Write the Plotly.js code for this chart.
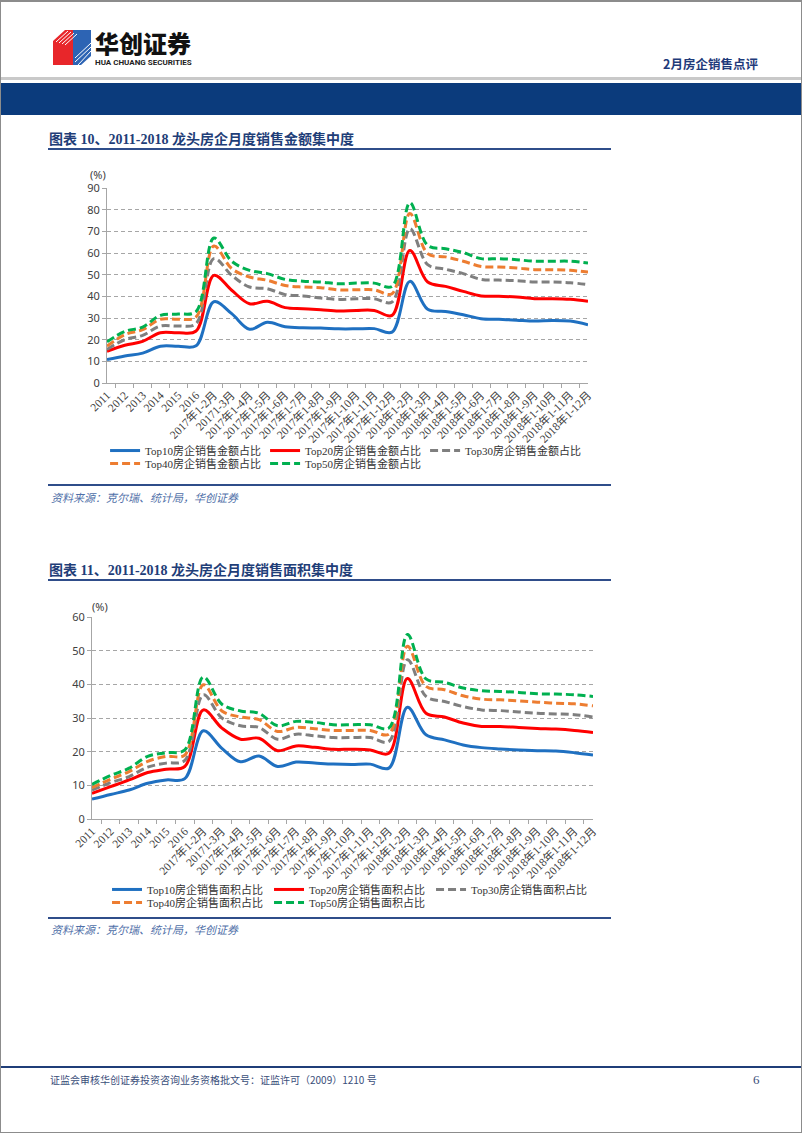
<!DOCTYPE html>
<html><head><meta charset="utf-8">
<script src="https://cdn.plot.ly/plotly-3.0.1.min.js"></script>
<style>
body{margin:0;background:#fff;}
#page{position:relative;width:802px;height:1133px;overflow:hidden;background:#fff;font-family:"Noto Sans CJK SC",sans-serif;}
.abs{position:absolute;white-space:nowrap;}
.ttl{font-family:"Liberation Serif","Noto Sans CJK SC",serif;font-weight:bold;font-size:14px;line-height:18px;color:#1F3E78;left:49px;}
.rule{left:48px;width:563px;height:2px;background:#2F4D8A;}
.src{left:51px;font-size:11px;line-height:14px;font-style:italic;color:#4F6FA8;}
.pct{font-size:11px;line-height:12px;color:#404040;font-family:"Noto Sans","Noto Sans CJK SC",sans-serif;}
</style></head><body>
<div id="page">
  <div id="chart1" class="abs" style="left:0;top:170px;width:640px;height:370px;"></div>
  <div id="chart2" class="abs" style="left:0;top:595px;width:640px;height:380px;"></div>

  <!-- page frame -->
  <div class="abs" style="left:0;top:0;width:802px;height:1133px;box-sizing:border-box;border:1px solid #8C8C8C;border-top:2px solid #8C8C8C;"></div>

  <!-- logo -->
  <svg class="abs" style="left:53px;top:29px;" width="40" height="38" viewBox="0 0 40 38">
    <polygon points="0,12 12,1 22,1 22,36 0,36" fill="#E8262A"/>
    <polygon points="20,1 38,1 38,27 28,36 20,36" fill="#2D64B4"/>
    <g stroke="#fff" stroke-width="1">
      <line x1="3" y1="13" x2="15" y2="2"/>
      <line x1="6" y1="14" x2="18" y2="3"/>
      <line x1="9" y1="15" x2="21" y2="4"/>
      <line x1="12" y1="16" x2="24" y2="5"/>
      <line x1="22" y1="33" x2="38" y2="18"/>
      <line x1="22" y1="29" x2="38" y2="14"/>
      <line x1="25" y1="36" x2="38" y2="22"/>
    </g>
  </svg>
  <div class="abs" style="left:95px;top:32px;font-size:24px;line-height:22px;font-weight:900;color:#111;">华创证券</div>
  <div class="abs" style="left:95px;top:59px;font-family:Roboto,sans-serif;font-size:8px;line-height:8px;font-weight:bold;color:#222;">HUA CHUANG SECURITIES</div>
  <div class="abs" style="left:663px;top:56px;font-size:12.5px;line-height:16px;font-weight:bold;color:#1F3B7A;">2月房企销售点评</div>
  <div class="abs" style="left:1px;top:77px;width:800px;height:3px;background:#C9C9C9;"></div>
  <div class="abs" style="left:1px;top:83px;width:800px;height:32px;background:#0B3B7C;"></div>

  <!-- chart 1 furniture -->
  <div class="abs ttl" style="top:131px;">图表 10、2011-2018 龙头房企月度销售金额集中度</div>
  <div class="abs rule" style="top:148px;"></div>
  <div class="abs pct" style="left:90px;top:169px;">(%)</div>
  <div class="abs rule" style="top:484px;height:1.5px;"></div>
  <div class="abs src" style="top:490px;">资料来源：克尔瑞、统计局，华创证券</div>

  <!-- chart 2 furniture -->
  <div class="abs ttl" style="top:562px;">图表 11、2011-2018 龙头房企月度销售面积集中度</div>
  <div class="abs rule" style="top:579px;"></div>
  <div class="abs pct" style="left:92px;top:601px;">(%)</div>
  <div class="abs rule" style="top:917px;height:1.5px;"></div>
  <div class="abs src" style="top:922px;">资料来源：克尔瑞、统计局，华创证券</div>

  <!-- footer -->
  <div class="abs" style="left:1px;top:1066px;width:800px;height:1.5px;background:#1F3E78;"></div>
  <div class="abs" style="left:50px;top:1073px;font-size:10px;line-height:14px;color:#3A4E7A;">证监会审核华创证券投资咨询业务资格批文号：证监许可（2009）1210 号</div>
  <div class="abs" style="left:753px;top:1072px;font-family:'Liberation Serif',serif;font-size:13px;line-height:15px;color:#3A4E7A;">6</div>
</div>
<script>
// ---- data ----
const categories = ["2011","2012","2013","2014","2015","2016",
  "2017年1-2月","20171-3月","2017年1-4月","2017年1-5月","2017年1-6月","2017年1-7月","2017年1-8月","2017年1-9月","2017年1-10月","2017年1-11月","2017年1-12月",
  "2018年1-2月","2018年1-3月","2018年1-4月","2018年1-5月","2018年1-6月","2018年1-7月","2018年1-8月","2018年1-9月","2018年1-10月","2018年1-11月","2018年1-12月"];

const amountNames = ["Top10房企销售金额占比","Top20房企销售金额占比","Top30房企销售金额占比","Top40房企销售金额占比","Top50房企销售金额占比"];
const top10Amount = [10.8,12.5,13.8,17,17,17.2,37.5,32,24.8,28,26,25.5,25.4,25,25,25.1,23.5,46.9,34,33,31.5,29.7,29.4,29,28.6,28.9,28.6,26.9];
const top20Amount = [14.6,17.4,19.2,23.2,23.2,24,49.7,42.8,36.6,37.7,34.8,34.3,33.8,33.2,33.5,33.5,31.2,61.2,46.6,44.6,42.3,40.2,40,39.7,38.9,38.9,38.6,37.7];
const top30Amount = [15.5,20,22,26.3,26.3,27.4,57.4,49.7,44.3,43.5,40.8,40.2,39.2,38.6,38.9,38.9,37.4,71.2,54.6,52.5,50.5,47.8,47.5,47.2,46.6,46.6,46.3,45.4];
const top40Amount = [17,22.3,24.6,29.4,29.4,30.5,63.2,52.8,48.9,47.4,45,44.3,44,43,43,43,41.2,78.2,59.7,58.2,56.2,53.8,53.5,53.1,52.3,52.3,52,51.2];
const top50Amount = [19,23.8,25.8,31.2,31.8,33,66.9,56.2,52,50.5,47.8,47,46.6,45.8,46.1,46.1,44.6,83.2,63.5,62,60.2,57.4,57.4,56.9,56.2,56.2,56.2,55.4];

const areaNames = ["Top10房企销售面积占比","Top20房企销售面积占比","Top30房企销售面积占比","Top40房企销售面积占比","Top50房企销售面积占比"];
const top10Area = [5.9,7.3,8.6,10.6,11.6,12,26.2,21,17,18.7,15.6,16.9,16.6,16.3,16.2,16.3,15.1,33.2,25,23.5,22,21.2,20.8,20.5,20.3,20.2,19.7,19];
const top20Area = [7.6,9.6,11.6,13.8,14.8,15.6,32.4,27,23.7,24,20.3,21.7,21.3,20.7,20.7,20.5,19.5,41.7,31.4,30.3,28.5,27.5,27.5,27.2,26.9,26.7,26.3,25.7];
const top30Area = [8.6,10.8,12.6,15.4,16.6,17.4,36.9,30,27.7,27.2,23.7,25.2,24.7,24.2,24.2,24.2,23,47.3,36.4,34.9,33.4,32.4,32.2,31.8,31.4,31.2,31,30.3];
const top40Area = [9.3,11.8,14.1,17.1,18.6,19,39.9,32.1,30.3,29.5,26,27.2,26.8,26.3,26.3,26.3,25.2,51.3,39.4,38.4,36.6,35.6,35.4,35.1,34.7,34.4,34.2,33.6];
const top50Area = [10.3,12.9,15.1,18.6,19.7,20.5,42.2,34.1,32.1,31.4,27.7,29,28.7,28,28,28,27,54.8,41.6,40.6,38.9,38.1,37.9,37.6,37.2,37.1,36.9,36.4];

// ---- styles ----
const colors = ["#1F70C1","#FF0000","#7F7F7F","#ED7D31","#00B050"];
const dashes = ["solid","solid","8px,4px","8px,4px","8px,4px"];
const legendOf = ["legend","legend","legend","legend2","legend2"];
const serif = "Liberation Serif, Noto Sans CJK SC, serif";

function makeTraces(names, series){
  return series.map((ys,i)=>({
    type:"scatter", mode:"lines", x:categories, y:ys, name:names[i],
    line:{color:colors[i], width:3, dash:dashes[i], shape:"spline", smoothing:1},
    legend:legendOf[i], hoverinfo:"skip"
  }));
}

function makeLayout(o){
  const legendBase = {orientation:"h", xanchor:"left", yanchor:"top", entrywidth:o.ew, entrywidthmode:"pixels",
    font:{family:serif, size:11, color:"#333"}, bgcolor:"rgba(0,0,0,0)", borderwidth:0, traceorder:"normal"};
  return {
    width:640, height:o.h, margin:o.m,
    paper_bgcolor:"rgba(0,0,0,0)", plot_bgcolor:"rgba(0,0,0,0)",
    showlegend:true,
    xaxis:{type:"category", tickson:"boundaries", ticks:"outside", ticklen:4, tickcolor:"#A6A6A6",
      showline:true, linecolor:"#A6A6A6", linewidth:1, tickangle:-45, showgrid:false, zeroline:false,
      tickfont:{family:serif, size:11.5, color:"#404040"}, fixedrange:true},
    yaxis:{range:[0,o.ymax], dtick:10, tick0:0, showgrid:true, gridcolor:"#A6A6A6", gridwidth:1, griddash:"4px,3px",
      showline:true, linecolor:"#A6A6A6", linewidth:1, ticks:"outside", ticklen:4, tickcolor:"#A6A6A6",
      zeroline:false, tickfont:{family:"Noto Sans, sans-serif", size:11, color:"#404040"}, fixedrange:true},
    legend:Object.assign({}, legendBase, {x:o.lx, y:o.ly1}),
    legend2:Object.assign({}, legendBase, {x:o.lx, y:o.ly2})
  };
}

Plotly.newPlot("chart1",
  makeTraces(amountNames,[top10Amount,top20Amount,top30Amount,top40Amount,top50Amount]),
  makeLayout({h:370, m:{l:107,r:52,t:18,b:157}, ymax:90, ew:115, lx:-0.004, ly1:-0.272, ly2:-0.338}),
  {staticPlot:true, displayModeBar:false});

Plotly.newPlot("chart2",
  makeTraces(areaNames,[top10Area,top20Area,top30Area,top40Area,top50Area]),
  makeLayout({h:380, m:{l:92,r:47,t:22,b:156}, ymax:60, ew:117, lx:0.03, ly1:-0.277, ly2:-0.342}),
  {staticPlot:true, displayModeBar:false});
</script>
</body></html>
